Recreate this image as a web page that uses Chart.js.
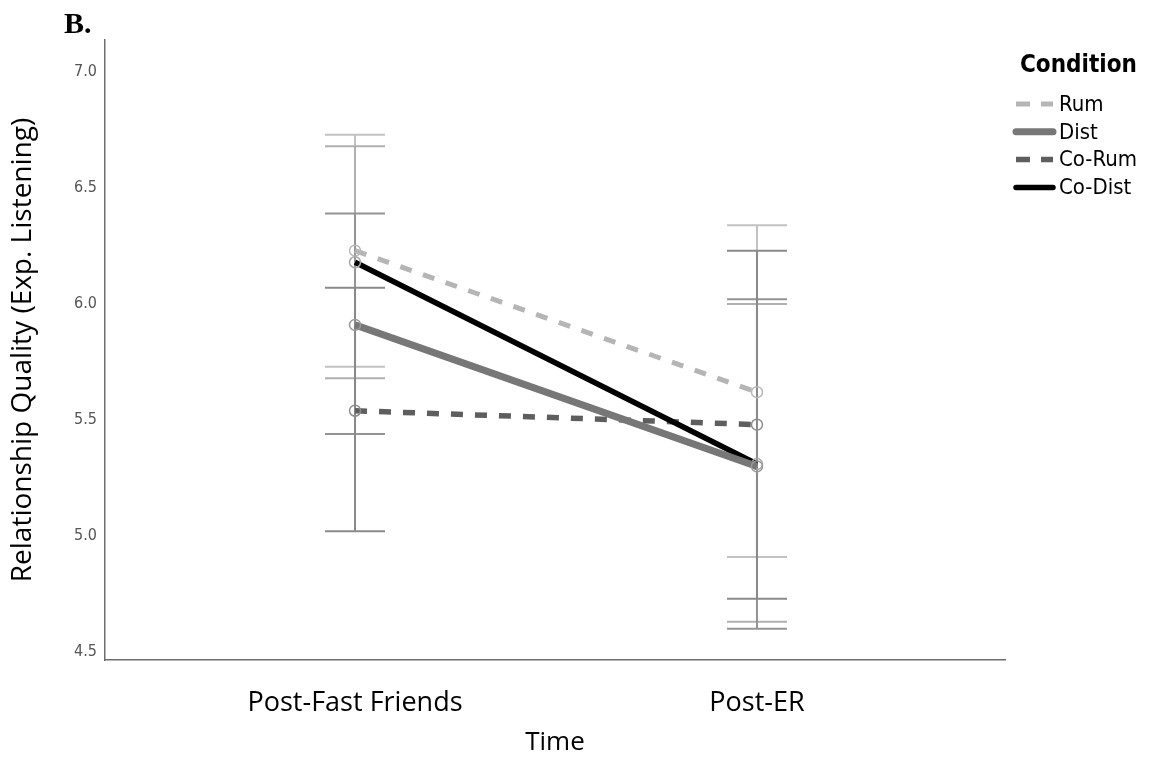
<!DOCTYPE html>
<html><head><meta charset="utf-8">
<script src="https://cdn.jsdelivr.net/npm/chart.js@4.4.0/dist/chart.umd.min.js"></script>
<style>html,body{margin:0;padding:0;background:#fff}#wrap{width:1150px;height:772px;position:relative}</style>
</head><body><div id="wrap"><canvas id="c" width="1150" height="772"></canvas></div>
<script>
const panelLabel = 'B.';
const categories = ['Post-Fast Friends', 'Post-ER'];
const seriesNames = ['Rum', 'Dist', 'Co-Rum', 'Co-Dist'];
const rumMean = [6.23, 5.62];
const rumLow = [5.73, 4.91];
const rumHigh = [6.73, 6.34];
const distMean = [5.91, 5.30];
const distLow = [5.44, 4.60];
const distHigh = [6.39, 6.02];
const coRumMean = [5.54, 5.48];
const coRumLow = [5.02, 4.73];
const coRumHigh = [6.07, 6.23];
const coDistMean = [6.18, 5.31];
const coDistLow = [5.68, 4.63];
const coDistHigh = [6.68, 6.00];
const yTicks = [4.5, 5.0, 5.5, 6.0, 6.5, 7.0];
const xTitle = 'Time';
const yTitle = 'Relationship Quality (Exp. Listening)';
const legendTitle = 'Condition';

const COND = "'DejaVu Sans Condensed', 'DejaVu Sans', sans-serif";
const SANS = "'Open Sans', sans-serif";

function pts(arr) { return arr.map((v, i) => ({x: i + 1, y: v})); }

const styles = [
  {color: '#b5b5b5', width: 5, dash: [12, 12], bar: '#c2c2c2', point: '#b8b8b8', order: 3},
  {color: '#777777', width: 7, dash: [], bar: '#949494', point: '#9a9a9a', order: 0},
  {color: '#5e5e5e', width: 5.5, dash: [12, 12], bar: '#8a8a8a', point: '#8c8c8c', order: 2},
  {color: '#000000', width: 5.5, dash: [], bar: '#b0b0b0', point: '#a8a8a8', order: 1}
];
const means = [rumMean, distMean, coRumMean, coDistMean];
const lows = [rumLow, distLow, coRumLow, coDistLow];
const highs = [rumHigh, distHigh, coRumHigh, coDistHigh];

const datasets = seriesNames.map((name, k) => ({
  label: name,
  data: pts(means[k]),
  borderColor: styles[k].color,
  borderWidth: styles[k].width,
  borderDash: styles[k].dash,
  borderCapStyle: 'butt',
  pointRadius: 5.5,
  pointBorderWidth: 1.5,
  pointBorderColor: styles[k].point,
  pointBackgroundColor: 'rgba(0,0,0,0)',
  fill: false,
  tension: 0,
  order: styles[k].order,
  errLow: lows[k],
  errHigh: highs[k],
  barColor: styles[k].bar
}));

const errorBarPlugin = {
  id: 'errorBars',
  beforeDatasetsDraw(chart) {
    const ctx = chart.ctx;
    const xs = chart.scales.x, ys = chart.scales.y;
    const drawOrder = [0, 3, 1, 2];
    ctx.save();
    drawOrder.forEach(k => {
      const ds = chart.data.datasets[k];
      ctx.strokeStyle = ds.barColor;
      ctx.lineWidth = 2;
      ctx.setLineDash([]);
      ds.errLow.forEach((lo, i) => {
        const x = xs.getPixelForValue(i + 1);
        const yl = ys.getPixelForValue(lo);
        const yh = ys.getPixelForValue(ds.errHigh[i]);
        ctx.beginPath();
        ctx.moveTo(x, yl); ctx.lineTo(x, yh);
        ctx.moveTo(x - 30, yl); ctx.lineTo(x + 30, yl);
        ctx.moveTo(x - 30, yh); ctx.lineTo(x + 30, yh);
        ctx.stroke();
      });
    });
    ctx.restore();
  }
};

const decorPlugin = {
  id: 'decor',
  afterDraw(chart) {
    const ctx = chart.ctx;
    ctx.save();
    ctx.fillStyle = '#000';
    ctx.font = "bold 30px 'Liberation Serif', 'Times New Roman', serif";
    ctx.textAlign = 'left';
    ctx.textBaseline = 'alphabetic';
    ctx.fillText(panelLabel, 64, 33);
    ctx.font = "bold 24px " + COND;
    ctx.textBaseline = 'middle';
    ctx.fillText(legendTitle, 1020, 66);
    ctx.font = "22px " + COND;
    chart.data.datasets.forEach((ds, k) => {
      const y = 104 + k * 27.8;
      ctx.beginPath();
      ctx.strokeStyle = ds.borderColor;
      ctx.lineWidth = ds.borderWidth;
      ctx.setLineDash(ds.borderDash.length ? [14, 11] : []);
      ctx.lineCap = ds.borderDash.length ? 'butt' : 'round';
      ctx.moveTo(1016, y); ctx.lineTo(1053, y);
      ctx.stroke();
      ctx.setLineDash([]);
      ctx.fillStyle = '#000';
      ctx.fillText(ds.label, 1059, y + 1);
    });
    ctx.restore();
  }
};

new Chart(document.getElementById('c'), {
  type: 'line',
  data: {datasets},
  options: {
    responsive: false,
    animation: false,
    devicePixelRatio: 1,
    layout: {padding: {top: 40, left: 0, right: 145, bottom: 0}},
    plugins: {legend: {display: false}, tooltip: {enabled: false}, title: {display: false}},
    scales: {
      x: {
        type: 'linear',
        min: 0.378, max: 2.617,
        grid: {display: false, drawTicks: false},
        border: {display: true, color: '#6e6e6e', width: 1.5},
        afterBuildTicks: s => { s.ticks = categories.map((c, i) => ({value: i + 1})); },
        afterFit: s => { s.height = 112; },
        ticks: {
          autoSkip: false, maxRotation: 0, padding: 27,
          color: '#000', font: {family: SANS, size: 27},
          callback: v => categories[v - 1]
        },
        title: {display: true, text: xTitle, color: '#000', font: {family: SANS, size: 26}, padding: {top: 0, bottom: 14}}
      },
      y: {
        min: 4.4655, max: 7.138,
        grid: {display: false, drawTicks: false},
        border: {display: true, color: '#6e6e6e', width: 1.5},
        afterBuildTicks: s => { s.ticks = yTicks.map(v => ({value: v})); },
        afterFit: s => { s.width = 105; },
        ticks: {
          padding: 8, color: '#555', font: {family: COND, size: 16},
          callback: v => Number(v).toFixed(1)
        },
        title: {display: true, text: yTitle, color: '#000', font: {family: SANS, size: 28}, padding: {top: 6, bottom: 0}}
      }
    }
  },
  plugins: [errorBarPlugin, decorPlugin]
});
</script>
</body></html>
